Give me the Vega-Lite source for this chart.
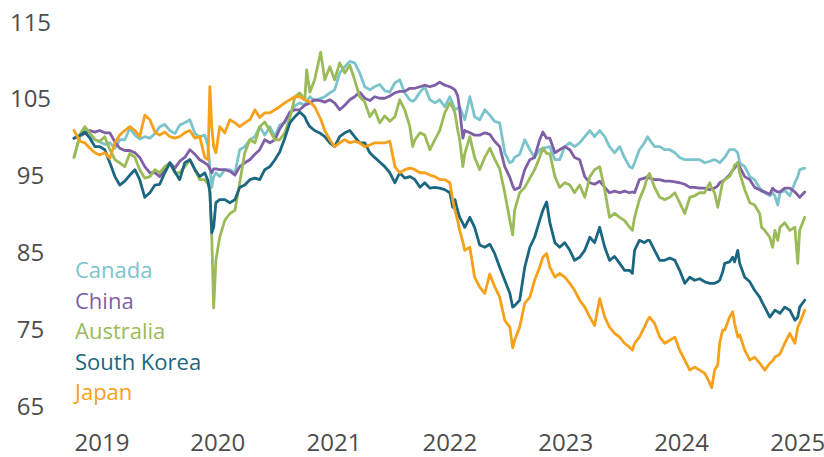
{
  "$schema": "https://vega.github.io/schema/vega-lite/v6.json",
  "width": 732,
  "height": 384,
  "autosize": {"type": "none"},
  "padding": {"left": 74, "top": 23, "right": 18, "bottom": 50},
  "background": "white",
  "config": {"view": {"stroke": null}, "font": "Open Sans"},
  "data": {"values": [
    {"d":"2019-01-01","Canada":97.5,"China":100,"Australia":97.5,"South Korea":100,"Japan":101},
    {"d":"2019-01-20","Canada":100.3,"China":100.3,"Australia":100.5,"South Korea":100.4,"Japan":99.6},
    {"d":"2019-02-04","Canada":101.2,"China":100.6,"Australia":101.5,"South Korea":100.8,"Japan":99.4},
    {"d":"2019-02-20","Canada":100.2,"China":101,"Australia":100.7,"South Korea":100,"Japan":98.7},
    {"d":"2019-03-08","Canada":99.8,"China":100.8,"Australia":99.8,"South Korea":98.9,"Japan":98.1},
    {"d":"2019-03-23","Canada":99.5,"China":101,"Australia":99.6,"South Korea":98.9,"Japan":97.8},
    {"d":"2019-04-08","Canada":99.2,"China":100.7,"Australia":100.2,"South Korea":98.5,"Japan":98.1},
    {"d":"2019-04-24","Canada":99.4,"China":100.7,"Australia":98.5,"South Korea":96.8,"Japan":97.4},
    {"d":"2019-05-10","Canada":98.7,"China":99.5,"Australia":97.2,"South Korea":95,"Japan":99.4},
    {"d":"2019-05-25","Canada":99.8,"China":98.7,"Australia":96.8,"South Korea":93.9,"Japan":100.4},
    {"d":"2019-06-10","Canada":99.8,"China":98.4,"Australia":96.3,"South Korea":94.4,"Japan":101},
    {"d":"2019-06-26","Canada":101.3,"China":98.4,"Australia":98,"South Korea":95.2,"Japan":101.5},
    {"d":"2019-07-12","Canada":100.4,"China":98.1,"Australia":97.5,"South Korea":95.9,"Japan":101},
    {"d":"2019-07-27","Canada":99.9,"China":97.5,"Australia":95.9,"South Korea":94.6,"Japan":100.2},
    {"d":"2019-08-12","Canada":100.2,"China":96.3,"Australia":94.8,"South Korea":92.3,"Japan":103},
    {"d":"2019-08-28","Canada":100,"China":95.5,"Australia":95,"South Korea":92.9,"Japan":102.4},
    {"d":"2019-09-13","Canada":100.6,"China":95.5,"Australia":95.9,"South Korea":93.9,"Japan":100.8},
    {"d":"2019-09-28","Canada":101.5,"China":95,"Australia":95.5,"South Korea":94,"Japan":100.4},
    {"d":"2019-10-14","Canada":101.8,"China":95.9,"Australia":96.3,"South Korea":95.5,"Japan":100.8},
    {"d":"2019-10-30","Canada":101,"China":96.8,"Australia":96.8,"South Korea":96.8,"Japan":100.2},
    {"d":"2019-11-15","Canada":100.6,"China":96.1,"Australia":95.5,"South Korea":95.6,"Japan":100},
    {"d":"2019-11-30","Canada":101.7,"China":97,"Australia":95.5,"South Korea":94.6,"Japan":100.2},
    {"d":"2019-12-16","Canada":102,"China":97.5,"Australia":96.3,"South Korea":96.8,"Japan":100.7},
    {"d":"2020-01-01","Canada":102.4,"China":98.5,"Australia":97.2,"South Korea":97.2,"Japan":101},
    {"d":"2020-01-17","Canada":100.6,"China":97.9,"Australia":95.9,"South Korea":95.9,"Japan":100},
    {"d":"2020-02-01","Canada":100.2,"China":97.2,"Australia":94.6,"South Korea":95,"Japan":100.2},
    {"d":"2020-02-17","Canada":100.4,"China":96.8,"Australia":94.6,"South Korea":95.5,"Japan":97.5},
    {"d":"2020-02-27","Canada":99,"China":96.5,"Australia":94,"South Korea":94.5,"Japan":97.2},
    {"d":"2020-03-04","Canada":96.3,"China":96,"Australia":93.5,"South Korea":92.9,"Japan":106.7},
    {"d":"2020-03-10","Canada":93.6,"China":95.5,"Australia":87.1,"South Korea":87.7,"Japan":101.5},
    {"d":"2020-03-16","Canada":95,"China":96,"Australia":77.9,"South Korea":88.4,"Japan":98.9},
    {"d":"2020-03-23","Canada":95.5,"China":96,"Australia":84.1,"South Korea":91.6,"Japan":98.1},
    {"d":"2020-04-04","Canada":95,"China":95.9,"Australia":87.1,"South Korea":92,"Japan":101.5},
    {"d":"2020-04-20","Canada":95.9,"China":95.9,"Australia":89.3,"South Korea":92,"Japan":100.7},
    {"d":"2020-05-06","Canada":95.9,"China":95.7,"Australia":90.2,"South Korea":91.6,"Japan":102.4},
    {"d":"2020-05-22","Canada":95.5,"China":95.2,"Australia":90.6,"South Korea":92,"Japan":102},
    {"d":"2020-06-06","Canada":98.5,"China":96.3,"Australia":94.2,"South Korea":93.6,"Japan":101.5},
    {"d":"2020-06-22","Canada":98.9,"China":96.8,"Australia":98.1,"South Korea":93.9,"Japan":102},
    {"d":"2020-07-08","Canada":99.8,"China":97.2,"Australia":99.8,"South Korea":94.6,"Japan":102.4},
    {"d":"2020-07-24","Canada":100.2,"China":97.9,"Australia":99.4,"South Korea":94.8,"Japan":103.7},
    {"d":"2020-08-08","Canada":101.5,"China":98.5,"Australia":101.5,"South Korea":94.6,"Japan":102.7},
    {"d":"2020-08-24","Canada":100.4,"China":99.8,"Australia":102.1,"South Korea":95.9,"Japan":103.3},
    {"d":"2020-09-09","Canada":101.5,"China":99.4,"Australia":101,"South Korea":96.3,"Japan":103.3},
    {"d":"2020-09-25","Canada":100.2,"China":99.8,"Australia":99.8,"South Korea":97.2,"Japan":103.7},
    {"d":"2020-10-10","Canada":101.7,"China":101.2,"Australia":99.8,"South Korea":98.2,"Japan":104.1},
    {"d":"2020-10-26","Canada":102,"China":102.2,"Australia":100.7,"South Korea":100,"Japan":104.6},
    {"d":"2020-11-11","Canada":103,"China":103.4,"Australia":102.6,"South Korea":102,"Japan":105},
    {"d":"2020-11-27","Canada":104.2,"China":103.7,"Australia":105.4,"South Korea":102.8,"Japan":105.4},
    {"d":"2020-12-12","Canada":104.6,"China":103.7,"Australia":105.9,"South Korea":103.4,"Japan":105.4},
    {"d":"2020-12-28","Canada":104.3,"China":104.3,"Australia":105,"South Korea":102.8,"Japan":105},
    {"d":"2021-01-03","Canada":104.8,"China":104.4,"Australia":108.9,"South Korea":102.2,"Japan":104.9},
    {"d":"2021-01-13","Canada":105.4,"China":104.6,"Australia":106,"South Korea":101.5,"Japan":104.7},
    {"d":"2021-01-28","Canada":104.9,"China":105,"Australia":107.6,"South Korea":101,"Japan":104.1},
    {"d":"2021-02-16","Canada":105.2,"China":104.9,"Australia":111.2,"South Korea":100.6,"Japan":102.5},
    {"d":"2021-03-01","Canada":105.4,"China":104.7,"Australia":107.6,"South Korea":100.2,"Japan":101},
    {"d":"2021-03-17","Canada":105.9,"China":105,"Australia":109.3,"South Korea":99.4,"Japan":99.8},
    {"d":"2021-04-01","Canada":106.3,"China":104.6,"Australia":107.6,"South Korea":98.9,"Japan":98.9},
    {"d":"2021-04-17","Canada":108.5,"China":103.7,"Australia":109.8,"South Korea":100.2,"Japan":99.4},
    {"d":"2021-05-03","Canada":109.3,"China":104.3,"Australia":108.5,"South Korea":100.7,"Japan":99.8},
    {"d":"2021-05-19","Canada":110,"China":105,"Australia":109.5,"South Korea":101,"Japan":99.4},
    {"d":"2021-06-03","Canada":109.8,"China":105.4,"Australia":107.6,"South Korea":100.2,"Japan":99.6},
    {"d":"2021-06-19","Canada":108.5,"China":106,"Australia":105.4,"South Korea":99.4,"Japan":99.4},
    {"d":"2021-07-05","Canada":106.7,"China":105.2,"Australia":104.7,"South Korea":99.4,"Japan":98.9},
    {"d":"2021-07-21","Canada":106.3,"China":104.9,"Australia":102.8,"South Korea":98.1,"Japan":99.1},
    {"d":"2021-08-05","Canada":106.7,"China":105.4,"Australia":103.7,"South Korea":97.5,"Japan":99.4},
    {"d":"2021-08-21","Canada":107,"China":105.2,"Australia":102,"South Korea":96.9,"Japan":99.4},
    {"d":"2021-09-06","Canada":106.2,"China":105.2,"Australia":102.9,"South Korea":96.3,"Japan":99.4},
    {"d":"2021-09-22","Canada":106,"China":105.5,"Australia":102.2,"South Korea":95.5,"Japan":99.6},
    {"d":"2021-10-08","Canada":107.2,"China":105.9,"Australia":102.8,"South Korea":94.2,"Japan":96.3},
    {"d":"2021-10-23","Canada":107.6,"China":106.1,"Australia":105,"South Korea":95.5,"Japan":95.5},
    {"d":"2021-11-08","Canada":105.9,"China":106.1,"Australia":103.7,"South Korea":94.8,"Japan":95.9},
    {"d":"2021-11-24","Canada":105,"China":106.5,"Australia":101.5,"South Korea":95,"Japan":96.1},
    {"d":"2021-12-03","Canada":104.8,"China":106.5,"Australia":98.9,"South Korea":94.8,"Japan":96},
    {"d":"2021-12-10","Canada":105,"China":106.5,"Australia":99.8,"South Korea":94.6,"Japan":95.9},
    {"d":"2021-12-26","Canada":106,"China":106.7,"Australia":100.7,"South Korea":93.6,"Japan":95.5},
    {"d":"2022-01-10","Canada":106.7,"China":106.9,"Australia":100.4,"South Korea":94.2,"Japan":95.5},
    {"d":"2022-01-26","Canada":105,"China":106.7,"Australia":98.5,"South Korea":93.5,"Japan":95.2},
    {"d":"2022-02-11","Canada":104.6,"China":106.9,"Australia":99.8,"South Korea":93.6,"Japan":95},
    {"d":"2022-02-26","Canada":105,"China":107.3,"Australia":101,"South Korea":93.5,"Japan":94.6},
    {"d":"2022-03-14","Canada":104.1,"China":106.9,"Australia":103.3,"South Korea":93.3,"Japan":94.6},
    {"d":"2022-03-30","Canada":105.4,"China":106.7,"Australia":104.6,"South Korea":92.9,"Japan":94.2},
    {"d":"2022-04-08","Canada":104.5,"China":106.5,"Australia":104,"South Korea":91,"Japan":92},
    {"d":"2022-04-15","Canada":103.7,"China":106.3,"Australia":103.3,"South Korea":92,"Japan":90.6},
    {"d":"2022-04-24","Canada":103.9,"China":105.5,"Australia":101,"South Korea":90.5,"Japan":89.2},
    {"d":"2022-04-30","Canada":104.1,"China":103.7,"Australia":99.8,"South Korea":89.7,"Japan":88},
    {"d":"2022-05-10","Canada":103,"China":100,"Australia":96.3,"South Korea":88.9,"Japan":86.5},
    {"d":"2022-05-16","Canada":102.4,"China":101,"Australia":98,"South Korea":88.4,"Japan":85.4},
    {"d":"2022-06-01","Canada":105.4,"China":100.7,"Australia":100.2,"South Korea":89.7,"Japan":85.8},
    {"d":"2022-06-16","Canada":102.8,"China":100.4,"Australia":97.5,"South Korea":88.4,"Japan":81.9},
    {"d":"2022-07-02","Canada":102.4,"China":100.4,"Australia":95.9,"South Korea":86.1,"Japan":80.6},
    {"d":"2022-07-18","Canada":103.7,"China":100.7,"Australia":97.5,"South Korea":85.8,"Japan":79.8},
    {"d":"2022-08-03","Canada":103,"China":100.5,"Australia":98.7,"South Korea":86.2,"Japan":82.3},
    {"d":"2022-08-18","Canada":102.2,"China":99.6,"Australia":97.3,"South Korea":85,"Japan":80.7},
    {"d":"2022-09-03","Canada":102,"China":98.9,"Australia":96,"South Korea":83.2,"Japan":79.3},
    {"d":"2022-09-19","Canada":98.1,"China":96.3,"Australia":92.9,"South Korea":81.5,"Japan":76.3},
    {"d":"2022-10-05","Canada":96.8,"China":94.9,"Australia":89.3,"South Korea":79.8,"Japan":75.4},
    {"d":"2022-10-14","Canada":97,"China":93.8,"Australia":87.4,"South Korea":78,"Japan":72.7},
    {"d":"2022-10-20","Canada":97.5,"China":93.3,"Australia":90.6,"South Korea":78.2,"Japan":73.7},
    {"d":"2022-11-05","Canada":97.9,"China":93.6,"Australia":92.9,"South Korea":78.9,"Japan":75.4},
    {"d":"2022-11-21","Canada":99.8,"China":95.9,"Australia":93.6,"South Korea":83.2,"Japan":78.5},
    {"d":"2022-12-07","Canada":98.5,"China":97.2,"Australia":94.8,"South Korea":85.8,"Japan":79.3},
    {"d":"2022-12-22","Canada":97.5,"China":97.5,"Australia":95.9,"South Korea":87.1,"Japan":81.5},
    {"d":"2023-01-07","Canada":98.5,"China":99.8,"Australia":97.5,"South Korea":89.3,"Japan":83.2},
    {"d":"2023-01-17","Canada":98.7,"China":100.8,"Australia":98.7,"South Korea":90.6,"Japan":84.5},
    {"d":"2023-01-29","Canada":98.8,"China":100,"Australia":98,"South Korea":91.7,"Japan":85},
    {"d":"2023-02-08","Canada":98.9,"China":100,"Australia":98,"South Korea":89,"Japan":83.2},
    {"d":"2023-02-24","Canada":97.2,"China":98.1,"Australia":95,"South Korea":86.4,"Japan":81.9},
    {"d":"2023-03-11","Canada":97.2,"China":98.5,"Australia":93.6,"South Korea":85.8,"Japan":82.4},
    {"d":"2023-03-27","Canada":98.9,"China":98.9,"Australia":94.2,"South Korea":86.4,"Japan":81.9},
    {"d":"2023-04-12","Canada":99.4,"China":98.5,"Australia":93.9,"South Korea":85.4,"Japan":81.1},
    {"d":"2023-04-27","Canada":98.9,"China":97.5,"Australia":92.9,"South Korea":84.1,"Japan":80.2},
    {"d":"2023-05-13","Canada":99.4,"China":97.2,"Australia":93.9,"South Korea":84.5,"Japan":78.9},
    {"d":"2023-05-29","Canada":100.2,"China":95,"Australia":92.3,"South Korea":85.4,"Japan":78},
    {"d":"2023-06-14","Canada":101,"China":94.2,"Australia":95,"South Korea":87.1,"Japan":76.7},
    {"d":"2023-06-29","Canada":100.2,"China":94,"Australia":95.9,"South Korea":86.4,"Japan":75.6},
    {"d":"2023-07-15","Canada":101,"China":94.4,"Australia":96.3,"South Korea":88.4,"Japan":79.1},
    {"d":"2023-07-31","Canada":100.2,"China":93.6,"Australia":93.3,"South Korea":85.8,"Japan":76.7},
    {"d":"2023-08-15","Canada":98.9,"China":92.9,"Australia":89.7,"South Korea":84.1,"Japan":75.4},
    {"d":"2023-08-31","Canada":98.1,"China":93.1,"Australia":90.2,"South Korea":84.6,"Japan":74.6},
    {"d":"2023-09-16","Canada":98.9,"China":92.9,"Australia":89.7,"South Korea":83.7,"Japan":74.1},
    {"d":"2023-10-01","Canada":97.5,"China":93.1,"Australia":89.3,"South Korea":82.8,"Japan":73.3},
    {"d":"2023-10-17","Canada":96.3,"China":92.9,"Australia":88.4,"South Korea":82.8,"Japan":72.8},
    {"d":"2023-10-26","Canada":96.1,"China":93,"Australia":88,"South Korea":82.4,"Japan":72.4},
    {"d":"2023-11-02","Canada":96.8,"China":92.9,"Australia":89.7,"South Korea":85.4,"Japan":73.3},
    {"d":"2023-11-17","Canada":98.5,"China":94.6,"Australia":92,"South Korea":86.7,"Japan":74.1},
    {"d":"2023-12-03","Canada":99.4,"China":94.8,"Australia":93.6,"South Korea":86.4,"Japan":75.4},
    {"d":"2023-12-13","Canada":100.2,"China":95,"Australia":95,"South Korea":86.7,"Japan":76.3},
    {"d":"2023-12-19","Canada":99.8,"China":94.8,"Australia":95.4,"South Korea":86.7,"Japan":76.7},
    {"d":"2024-01-04","Canada":98.9,"China":94.6,"Australia":93.6,"South Korea":85.4,"Japan":75.9},
    {"d":"2024-01-20","Canada":98.9,"China":94.6,"Australia":92.3,"South Korea":84.1,"Japan":74.1},
    {"d":"2024-02-05","Canada":98.5,"China":94.4,"Australia":92,"South Korea":84.1,"Japan":73.3},
    {"d":"2024-02-21","Canada":98.5,"China":94.4,"Australia":92.3,"South Korea":84.4,"Japan":73.7},
    {"d":"2024-03-08","Canada":98.1,"China":94.3,"Australia":92.9,"South Korea":84.1,"Japan":74.1},
    {"d":"2024-03-23","Canada":97.5,"China":94.2,"Australia":91.6,"South Korea":82.8,"Japan":72.4},
    {"d":"2024-04-08","Canada":97.2,"China":94,"Australia":90.2,"South Korea":81.1,"Japan":71.1},
    {"d":"2024-04-24","Canada":97.2,"China":93.6,"Australia":92.3,"South Korea":81.9,"Japan":69.8},
    {"d":"2024-05-09","Canada":97.2,"China":93.6,"Australia":92.5,"South Korea":81.5,"Japan":70.2},
    {"d":"2024-05-25","Canada":97.2,"China":93.5,"Australia":92.9,"South Korea":81.7,"Japan":69.8},
    {"d":"2024-06-10","Canada":96.8,"China":93.5,"Australia":92.9,"South Korea":81.3,"Japan":69.4},
    {"d":"2024-06-26","Canada":97,"China":93.3,"Australia":94.2,"South Korea":81.1,"Japan":68.1},
    {"d":"2024-07-02","Canada":97.1,"China":93.4,"Australia":93.5,"South Korea":81.1,"Japan":67.5},
    {"d":"2024-07-11","Canada":97.2,"China":93.5,"Australia":92.9,"South Korea":81.1,"Japan":69.8},
    {"d":"2024-07-21","Canada":97,"China":93.8,"Australia":91,"South Korea":81.3,"Japan":70.5},
    {"d":"2024-07-27","Canada":96.8,"China":94.2,"Australia":92.3,"South Korea":81.5,"Japan":73.3},
    {"d":"2024-08-05","Canada":97.2,"China":94.4,"Australia":94.2,"South Korea":82.5,"Japan":75},
    {"d":"2024-08-12","Canada":97.5,"China":94.6,"Australia":94.6,"South Korea":83.7,"Japan":75},
    {"d":"2024-08-27","Canada":98.5,"China":95.2,"Australia":95,"South Korea":83.9,"Japan":76.7},
    {"d":"2024-09-06","Canada":98.5,"China":95.8,"Australia":95.8,"South Korea":84.5,"Japan":77.4},
    {"d":"2024-09-12","Canada":98.5,"China":96.1,"Australia":96.5,"South Korea":83.9,"Japan":75.9},
    {"d":"2024-09-22","Canada":98.1,"China":96.8,"Australia":96.8,"South Korea":85.4,"Japan":74.1},
    {"d":"2024-09-28","Canada":96.8,"China":96.3,"Australia":95.5,"South Korea":83.7,"Japan":74.4},
    {"d":"2024-10-14","Canada":96.3,"China":95,"Australia":93.3,"South Korea":81.9,"Japan":72.4},
    {"d":"2024-10-30","Canada":95,"China":94.6,"Australia":91.6,"South Korea":81.3,"Japan":71.1},
    {"d":"2024-11-14","Canada":94.6,"China":93.6,"Australia":91.3,"South Korea":80.2,"Japan":71.5},
    {"d":"2024-11-30","Canada":93.5,"China":93.3,"Australia":90.2,"South Korea":79.3,"Japan":70.7},
    {"d":"2024-12-06","Canada":93.3,"China":93.1,"Australia":88.4,"South Korea":78.8,"Japan":70.4},
    {"d":"2024-12-16","Canada":92.9,"China":93,"Australia":88,"South Korea":78,"Japan":69.8},
    {"d":"2025-01-01","Canada":92.5,"China":92.7,"Australia":87.1,"South Korea":76.7,"Japan":70.7},
    {"d":"2025-01-10","Canada":92.9,"China":93.5,"Australia":85.8,"South Korea":77.2,"Japan":71},
    {"d":"2025-01-17","Canada":92.5,"China":93.2,"Australia":88,"South Korea":77.6,"Japan":71.5},
    {"d":"2025-01-26","Canada":91.3,"China":93,"Australia":86.7,"South Korea":77.4,"Japan":71.7},
    {"d":"2025-02-02","Canada":92.9,"China":93,"Australia":88.4,"South Korea":77.2,"Japan":71.9},
    {"d":"2025-02-17","Canada":93.2,"China":93.5,"Australia":89,"South Korea":78,"Japan":73.3},
    {"d":"2025-03-05","Canada":92.5,"China":93.5,"Australia":88,"South Korea":77.6,"Japan":74.6},
    {"d":"2025-03-21","Canada":94.2,"China":93,"Australia":88.4,"South Korea":76.3,"Japan":73.3},
    {"d":"2025-03-30","Canada":95,"China":92.6,"Australia":83.7,"South Korea":76.7,"Japan":75.4},
    {"d":"2025-04-05","Canada":95.9,"China":92.3,"Australia":88,"South Korea":78,"Japan":75.9},
    {"d":"2025-04-21","Canada":96.1,"China":93,"Australia":89.7,"South Korea":78.9,"Japan":77.6}
  ]},
  "transform": [
    {"fold": ["Canada", "China", "Australia", "South Korea", "Japan"], "as": ["country", "value"]}
  ],
  "mark": {"type": "line", "strokeWidth": 2.8, "strokeJoin": "round", "strokeCap": "round"},
  "encoding": {
    "x": {
      "field": "d", "type": "temporal",
      "scale": {"type": "utc", "domain": [{"year": 2019, "month": 1, "date": 1, "utc": true}, {"year": 2025, "month": 4, "date": 25, "utc": true}]},
      "axis": {
        "title": null, "grid": false, "domain": false, "ticks": false, "tickSize": 0,
        "values": [
          {"year": 2019, "month": 1, "date": 1, "utc": true},
          {"year": 2020, "month": 1, "date": 1, "utc": true},
          {"year": 2021, "month": 1, "date": 1, "utc": true},
          {"year": 2022, "month": 1, "date": 1, "utc": true},
          {"year": 2023, "month": 1, "date": 1, "utc": true},
          {"year": 2024, "month": 1, "date": 1, "utc": true},
          {"year": 2025, "month": 1, "date": 1, "utc": true}
        ],
        "format": "%Y", "labelAlign": "left", "labelFlush": false, "labelOverlap": false,
        "labelPadding": 24, "labelFont": "Open Sans", "labelFontSize": 24, "labelColor": "#4d4d4d"
      }
    },
    "y": {
      "field": "value", "type": "quantitative",
      "scale": {"domain": [65, 115], "nice": false, "zero": false},
      "axis": {
        "title": null, "grid": false, "domain": false, "ticks": false, "tickSize": 0,
        "values": [65, 75, 85, 95, 105, 115],
        "labelAlign": "center", "labelPadding": 44, "labelFlush": false, "labelOverlap": false,
        "labelFont": "Open Sans", "labelFontSize": 24, "labelColor": "#4d4d4d"
      }
    },
    "color": {
      "field": "country", "type": "nominal",
      "scale": {
        "domain": ["Canada", "China", "Australia", "South Korea", "Japan"],
        "range": ["#7cc4cc", "#7f5fa5", "#9bbb59", "#1b6680", "#f7a11a"]
      },
      "legend": {
        "title": null, "orient": "none", "legendX": -21, "legendY": 237,
        "padding": 0, "symbolSize": 0, "symbolOpacity": 0, "symbolStrokeWidth": 0,
        "labelOffset": 0, "rowPadding": 8.5,
        "labelFont": "Open Sans", "labelFontSize": 22, "labelFontWeight": 500, "labelBaseline": "middle",
        "encode": {"labels": {"update": {"fill": {"scale": "color", "field": "value"}}}}
      }
    }
  }
}
